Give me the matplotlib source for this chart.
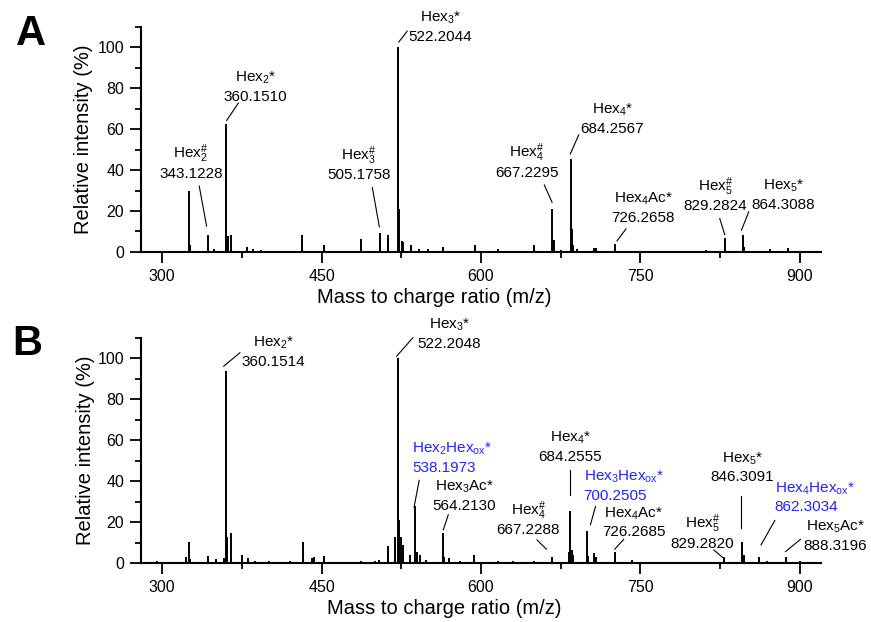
import numpy as np
import matplotlib
matplotlib.use('Agg')
import matplotlib.pyplot as plt
from matplotlib.ticker import MultipleLocator

plt.rcParams['font.family'] = ['Liberation Sans', 'DejaVu Sans']
plt.rcParams['mathtext.default'] = 'regular'

# --- spectrum A (m/z, relative intensity %) ---
mz_A = [295, 310, 324.9, 326.2, 343.1, 349, 360.15, 361.5, 364.7, 380.1, 385, 393,
        431.5, 452.5, 486.6, 505.2, 512.8, 522.2, 523.2, 525.5, 527, 534.2, 542, 550,
        564.4, 594.6, 616, 649.6, 667.2, 668.4, 675, 684.3, 685.3, 686.8, 690, 706,
        708.5, 726.3, 790, 811.9, 829.3, 846.4, 847.5, 871.8, 888.8]
int_A = [0.5, 0.5, 30, 3.5, 8.2, 1.5, 62.6, 8, 8.2, 2.5, 1.5, 1,
         8.2, 3.3, 6.5, 9.3, 8.5, 100, 21, 5.4, 5, 3.6, 1.6, 1.6,
         2.5, 3.2, 1.6, 3.3, 21, 5.7, 1, 45.4, 11.3, 3.3, 1.5, 2,
         2, 3.8, 0.6, 1, 7, 8.2, 2.5, 1.6, 2]

names_A = [r'Hex$_2^{\#}$', r'Hex$_2$*', r'Hex$_3^{\#}$', r'Hex$_3$*',
           r'Hex$_4^{\#}$', r'Hex$_4$*', r'Hex$_4$Ac*', r'Hex$_5^{\#}$',
           r'Hex$_5$*']
masses_A = ['343.1228', '360.1510', '505.1758', '522.2044', '667.2295',
            '684.2567', '726.2658', '829.2824', '864.3088']

# --- spectrum B ---
mz_B = [295, 312, 322.3, 325.0, 326.2, 343.2, 351, 358.3, 360.15, 361.3, 364.8, 375.5,
        380.5, 387, 400, 420, 432.4, 440.6, 443.2, 452.5, 468, 487, 500, 504,
        512, 519.4, 522.2, 523.2, 524.4, 526.4, 532.8, 537.6, 539.3, 542.2, 548, 564.0,
        565.5, 569.6, 580, 593.8, 616, 630, 649.6, 667.0, 682.6, 684.2, 685.5, 687,
        699.8, 701, 706.7, 708.3, 725.9, 742.2, 770, 810, 829.1, 845.7, 847.2, 861.4,
        869, 887.5, 900]
int_B = [1, 0.6, 3, 10.6, 2, 3.6, 2.3, 2.5, 94, 13, 15, 4,
         2.8, 1.3, 1.2, 1, 10.6, 2.5, 3.3, 3.8, 0.8, 1.2, 1, 1.5,
         8.2, 13, 100, 21, 13, 9, 4, 28, 5.7, 4, 1.5, 14.7,
         3, 2.4, 1, 4, 1, 1, 1.3, 3.3, 5.7, 25.6, 6.5, 4,
         15.8, 3.5, 5.2, 3.3, 5.7, 1.6, 0.6, 0.8, 3, 10.6, 4, 3,
         1, 3, 1]

names_B = [r'Hex$_2$*', r'Hex$_3$*', r'Hex$_2$Hex$_{ox}$*', r'Hex$_3$Ac*',
           r'Hex$_4^{\#}$', r'Hex$_4$*', r'Hex$_3$Hex$_{ox}$*', r'Hex$_4$Ac*',
           r'Hex$_5^{\#}$', r'Hex$_5$*', r'Hex$_4$Hex$_{ox}$*', r'Hex$_5$Ac*']
masses_B = ['360.1514', '522.2048', '538.1973', '564.2130', '667.2288', '684.2555',
            '700.2505', '726.2685', '829.2820', '846.3091', '862.3034', '888.3196']
oxidized_B = [False, False, True, False, False, False, True, False, False, False, True, False]

# label placement: text x, mass-line baseline y, leader line x0, y0, x1, y1
layout_A = [(327, 36.3, 334.8, 32.2, 341.7, 12.6),
            (388, 73.9, 371.6, 72.7, 360.6, 64.2),
            (485, 35.5, 497.7, 31.5, 504.3, 12.3),
            (562, 102.9, 530.5, 107.8, 522.6, 102.5),
            (643, 36.8, 659.6, 32.7, 666.9, 24.2),
            (723.7, 58.3, 692, 57.2, 684.1, 47.9),
            (752.9, 14.7, 736.5, 11.3, 728, 5.4),
            (820.6, 20.4, 824.7, 16.3, 829.4, 8.5),
            (884.4, 21.2, 852, 19.6, 845.1, 10.6)]
layout_B = [(404.8, 96.2, 373.1, 102.8, 357.8, 96.2),
            (570, 105.2, 535.8, 110.1, 520.6, 101.1),
            (565, 44.5, 541.8, 40.5, 537.0, 27.4),
            (584.3, 26.1, 569.2, 23.7, 564.5, 16.3),
            (644.6, 14.4, 652.7, 11.4, 661.5, 6.9),
            (684.1, 49.8, 683.5, 45.4, 683.5, 33.4),
            (726.5, 31.0, 707.7, 27.7, 703, 18.8),
            (743.8, 13.1, 734.3, 11.7, 725.9, 6.9),
            (808.1, 7.7, 819.1, 6.5, 828.5, 2.4),
            (845.8, 40.0, 845.1, 33, 845.1, 17.1),
            (906.3, 25.3, 876.5, 20.9, 863.6, 9),
            (933.6, 6.5, 900.7, 11.7, 886.6, 5.7)]

BLUE = '#2323ee'


def style(ax, xlab_x, ylab_x):
    ax.set_xlim(280, 920)
    ax.set_ylim(0, 110)
    for s in ['top', 'right']:
        ax.spines[s].set_visible(False)
    for s in ['left', 'bottom']:
        ax.spines[s].set_linewidth(1.5)
    ax.xaxis.set_major_locator(MultipleLocator(150))
    ax.xaxis.set_minor_locator(MultipleLocator(75))
    ax.yaxis.set_major_locator(MultipleLocator(20))
    ax.yaxis.set_minor_locator(MultipleLocator(10))
    ax.tick_params(which='major', direction='out', length=8, width=1.3,
                   labelsize=11.5, pad=4)
    ax.tick_params(which='minor', direction='out', length=4, width=1.3)
    ax.set_xlabel('Mass to charge ratio (m/z)', fontsize=14.5)
    ax.set_ylabel('Relative intensity (%)', fontsize=14.5)
    ax.xaxis.set_label_coords(xlab_x, -0.16)
    ax.yaxis.set_label_coords(ylab_x, 0.5)


def annotate(ax, names, masses, layout, colors, left_names):
    renderer = fig.canvas.get_renderer()
    for name, mass, (tx, ty, x0, y0, x1, y1), c, left in zip(names, masses, layout, colors, left_names):
        t = ax.text(tx, ty, mass, ha='center', va='baseline', fontsize=11, color=c, clip_on=False)
        if left:
            # name flush with the left edge of the mass value
            x_left = ax.transData.inverted().transform(t.get_window_extent(renderer).p0)[0]
            ax.text(x_left, ty + 9.4, name, ha='left', va='baseline', fontsize=11, color=c, clip_on=False)
        else:
            ax.text(tx, ty + 9.4, name, ha='center', va='baseline', fontsize=11, color=c, clip_on=False)
        ax.plot([x0, x1], [y0, y1], color='black', lw=0.8, clip_on=False)


fig = plt.figure(figsize=(8.71, 6.22), dpi=100)
axA = fig.add_axes([0.1619, 0.5949, 0.7807, 0.3622])
axB = fig.add_axes([0.1619, 0.0944, 0.7807, 0.3622])

axA.vlines(mz_A, 0, int_A, color='black', lw=1.4)
axB.vlines(mz_B, 0, int_B, color='black', lw=1.4)

style(axA, 0.431, -0.071)
style(axB, 0.446, -0.068)

annotate(axA, names_A, masses_A, layout_A, ['black'] * len(names_A), [False] * len(names_A))
annotate(axB, names_B, masses_B, layout_B, [BLUE if o else 'black' for o in oxidized_B], oxidized_B)

fig.text(16 / 871, 1 - 45 / 622, 'A', fontsize=30, fontweight='bold', va='baseline')
fig.text(12 / 871, 1 - 355 / 622, 'B', fontsize=30, fontweight='bold', va='baseline')

fig.savefig('out.png', dpi=100)
